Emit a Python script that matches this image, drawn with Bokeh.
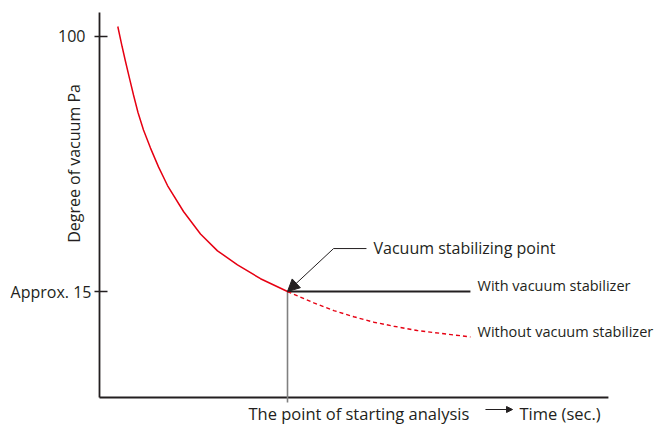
from bokeh.plotting import figure
from bokeh.models import Label, Arrow, NormalHead, Range1d
from bokeh.embed import file_html
from bokeh.resources import INLINE

# ---- data (time in arbitrary units, vacuum in Pa, log scale) ----
t_curve = [0.973, 1.202, 1.383, 1.596, 1.809, 2.048, 2.340, 2.713, 3.138, 3.617, 4.468, 5.372, 6.277, 7.340, 8.564, 10.0]
p_curve = [107.7, 92.8, 83.0, 73.2, 64.7, 56.8, 49.9, 43.6, 37.9, 33.0, 27.2, 23.0, 20.3, 18.3, 16.5, 15.0]
t_dash = [10.0, 11.40, 12.46, 13.53, 14.59, 15.65, 16.90, 19.73]
p_dash = [15.0, 13.79, 13.02, 12.43, 11.94, 11.59, 11.22, 10.70]
t_stab, p_stab = 10.0, 15.0          # vacuum stabilizing point / start of analysis
t_with_end = 19.73
y_ticks = [100, 15]
y_tick_labels = ["100", "Approx. 15"]

# axis extents (data units)
t_axis_min, t_axis_max = 0.0, 27.07
p_axis_min, p_axis_max = 6.818, 119.6

INK = "#231f20"
RED = "#e60012"
GRAY = "#808080"
FONT = "Open Sans"
FS = "16px"

p = figure(width=654, height=424, y_axis_type="log",
           x_range=Range1d(-5.266, 29.521), y_range=Range1d(5.578, 130.7),
           x_axis_location=None, y_axis_location=None,
           output_backend="svg", toolbar_location=None, min_border=0)
p.outline_line_color = None
p.xgrid.visible = False
p.ygrid.visible = False
p.background_fill_color = "white"
p.border_fill_color = "white"

# axes
p.segment(x0=[t_axis_min], y0=[p_axis_min], x1=[t_axis_min], y1=[p_axis_max], line_color=INK, line_width=1.8)
p.segment(x0=[t_axis_min], y0=[p_axis_min], x1=[t_axis_max], y1=[p_axis_min], line_color=INK, line_width=1.8)
# y ticks
p.segment(x0=[-0.266] * len(y_ticks), y0=y_ticks, x1=[0.426] * len(y_ticks), y1=y_ticks,
          line_color=INK, line_width=1.6)

def lab(x, y, text, size=FS, **kw):
    p.add_layout(Label(x=x, y=y, text=text, text_font=FONT, text_font_size=size,
                       text_color=INK, **kw))

lab(-0.745, y_ticks[0], y_tick_labels[0], text_align="right", text_baseline="middle")
lab(-0.426, y_ticks[1], y_tick_labels[1], text_align="right", text_baseline="middle")

# vertical gray marker at start of analysis (extends below the axis)
p.segment(x0=[t_stab], y0=[p_stab], x1=[t_stab], y1=[6.57], line_color=GRAY, line_width=1.6)
# with stabilizer
p.segment(x0=[t_stab], y0=[p_stab], x1=[t_with_end], y1=[p_stab], line_color=INK, line_width=2)
# without stabilizer
p.line(t_dash, p_dash, line_color=RED, line_width=1.4, line_dash="4 3")
# curve
p.line(t_curve, p_curve, line_color=RED, line_width=1.5)

# callout
elbow_t, elbow_p = 12.45, 20.65
p.line([14.2, elbow_t], [elbow_p, elbow_p], line_color=INK, line_width=1)
p.add_layout(Arrow(end=NormalHead(size=12, fill_color=INK, line_color=INK),
                   x_start=elbow_t, y_start=elbow_p, x_end=t_stab, y_end=p_stab,
                   line_color=INK, line_width=1))

lab(14.574, 20.73, "Vacuum stabilizing point", text_baseline="middle")
lab(20.106, 15.74, "With vacuum stabilizer", size="14.5px", text_baseline="middle")
lab(20.106, 11.10, "Without vacuum stabilizer", size="14.5px", text_baseline="middle")
lab(7.926, 6.075, "The point of starting analysis", size="16.5px", text_baseline="middle")
lab(22.34, 6.075, "Time (sec.)", size="16.5px", text_baseline="middle")
lab(-1.330, 38.88, "Degree of vacuum Pa", angle=1.5708, text_align="center", text_baseline="middle")

p.add_layout(Arrow(end=NormalHead(size=6, fill_color=INK, line_color=INK),
                   x_start=20.53, y_start=6.236, x_end=21.97, y_end=6.236,
                   line_color=INK, line_width=1))

open("out.html", "w").write(file_html(p, INLINE))
